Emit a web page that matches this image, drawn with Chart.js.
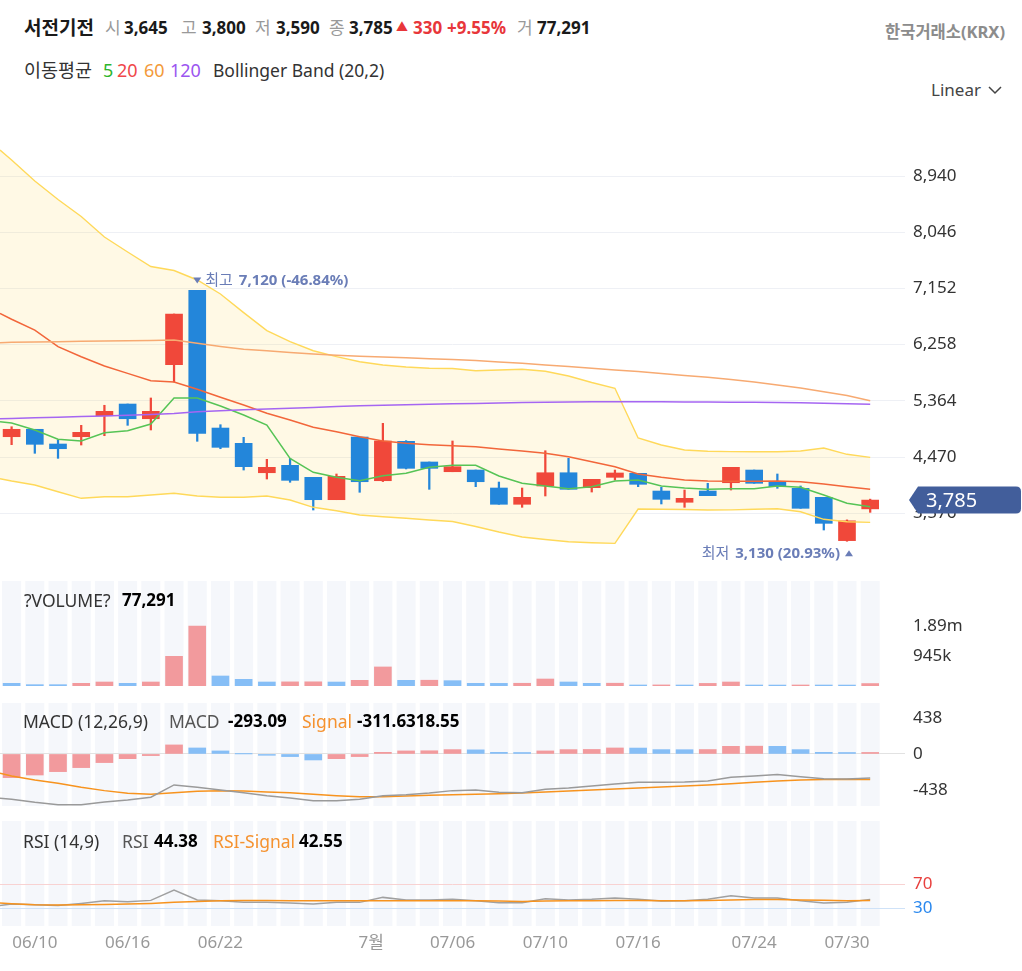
<!DOCTYPE html>
<html><head><meta charset="utf-8">
<script src="https://cdn.jsdelivr.net/npm/chart.js@4.4.1/dist/chart.umd.min.js"></script>
<style>
html,body{margin:0;padding:0;background:#fff;}
body{width:1022px;height:971px;position:relative;overflow:hidden;font-family:"Noto Sans","Noto Sans CJK KR",sans-serif;color:#222;}
.t{position:absolute;white-space:nowrap;line-height:20px;font-size:16px;z-index:5;}
.g{color:#999;font-size:17px;}
.b{font-weight:700;color:#1a1a1a;font-size:17px;}
.r{color:#E8363A;font-weight:700;font-size:17px;}
.l{font-size:17.5px;color:#333;}
.pn{position:absolute;left:0;}
canvas{display:block;}
</style></head><body>

<div class="t b" style="left:24px;top:18px;font-size:19px;">서전기전</div>
<div class="t g" style="left:105px;top:18px;">시</div><div class="t b" style="left:124px;top:18px;">3,645</div>
<div class="t g" style="left:181px;top:18px;">고</div><div class="t b" style="left:202px;top:18px;">3,800</div>
<div class="t g" style="left:255px;top:18px;">저</div><div class="t b" style="left:276px;top:18px;">3,590</div>
<div class="t g" style="left:329px;top:18px;">종</div><div class="t b" style="left:349px;top:18px;">3,785</div>
<div class="t r" style="left:396px;top:18px;font-size:12px;">▲</div>
<div class="t r" style="left:413px;top:18px;">330</div><div class="t r" style="left:447px;top:18px;">+9.55%</div>
<div class="t g" style="left:517px;top:18px;">거</div><div class="t b" style="left:537px;top:18px;">77,291</div>
<div class="t" style="right:17px;top:22px;font-weight:700;color:#8C8C8C;font-size:16.5px;">한국거래소(KRX)</div>

<div class="t" style="left:24px;top:60px;color:#333;font-size:18.5px;">이동평균</div>
<div class="t" style="left:103px;top:60px;color:#2DB52D;font-size:18px;">5</div>
<div class="t" style="left:117px;top:60px;color:#F0474A;font-size:18px;">20</div>
<div class="t" style="left:144px;top:60px;color:#F39A3A;font-size:18px;">60</div>
<div class="t" style="left:170px;top:60px;color:#9B55F0;font-size:18px;">120</div>
<div class="t" style="left:213px;top:60px;color:#333;font-size:17.5px;">Bollinger Band (20,2)</div>

<div class="t" style="left:931px;top:80px;color:#444;font-size:17px;">Linear</div>
<svg style="position:absolute;left:988px;top:85px;z-index:5" width="14" height="10"><polyline points="1,2 7,8 13,2" fill="none" stroke="#444" stroke-width="1.5"/></svg>

<div class="t l" style="left:24px;top:590px;">?VOLUME?</div><div class="t b" style="left:122px;top:590px;color:#000;">77,291</div>
<div class="t l" style="left:23px;top:711px;">MACD (12,26,9)</div>
<div class="t l" style="left:169px;top:711px;color:#555;">MACD</div><div class="t b" style="left:228px;top:711px;color:#000;">-293.09</div>
<div class="t l" style="left:302px;top:711px;color:#F5922F;">Signal</div><div class="t b" style="left:357px;top:711px;color:#000;">-311.6318.55</div>
<div class="t l" style="left:23px;top:831px;">RSI (14,9)</div>
<div class="t l" style="left:122px;top:831px;color:#555;">RSI</div><div class="t b" style="left:154px;top:831px;color:#000;">44.38</div>
<div class="t l" style="left:213px;top:831px;color:#F5922F;">RSI-Signal</div><div class="t b" style="left:299px;top:831px;color:#000;">42.55</div>

<div class="pn" style="top:110px;"><canvas id="price" width="1022" height="462"></canvas></div>
<div class="pn" style="top:581px;"><canvas id="vol" width="1022" height="105"></canvas></div>
<div class="pn" style="top:703px;"><canvas id="macd" width="1022" height="103"></canvas></div>
<div class="pn" style="top:821px;"><canvas id="rsi" width="1022" height="140"></canvas></div>

<script>
// ---------- DATA ----------
const dates = ['06/09','06/10','06/11','06/12','06/15','06/16','06/17','06/18','06/19','06/22','06/23','06/24','06/25','06/26','06/29','06/30','07/01','07/02','07/03','07/06','07/07','07/08','07/09','07/10','07/13','07/14','07/15','07/16','07/17','07/20','07/21','07/22','07/24','07/27','07/28','07/29','07/30','07/31'];
const tickDates = ['06/10','06/16','06/22','07/01','07/06','07/10','07/16','07/24','07/30'];
const tickTexts = ['06/10','06/16','06/22','7월','07/06','07/10','07/16','07/24','07/30'];

const opens  = [4793,4911,4677,4793,5127,5313,5079,5938,7120,4931,4688,4220,4338,4147,3791,4788,4093,4720,4391,4236,4263,3977,3718,4009,4220,3982,4147,4211,3929,3750,3929,4061,4263,4077,3972,3829,3140,3645];
const highs  = [4952,4911,4741,4974,5293,5313,5409,6745,7120,4984,4783,4433,4449,4147,4200,4788,5006,4730,4391,4725,4263,4072,3977,4570,4449,4115,4263,4211,3988,3945,4052,4306,4263,4200,4009,3829,3470,3800];
const lows   = [4666,4529,4449,4661,4809,4974,4900,5663,4720,4602,4263,4120,4068,3627,3791,3909,4080,4280,3956,4236,3998,3718,3670,3850,3956,3913,4104,3998,3723,3670,3855,3945,4052,3972,3654,3309,3130,3590];
const closes = [4911,4672,4602,4863,5197,5079,5197,6745,4847,4624,4316,4306,4099,3791,4163,4077,4725,4290,4290,4316,4077,3718,3829,4220,3956,4115,4216,4036,3797,3813,3855,4306,4052,3998,3654,3415,3455,3785];

const ma5   = [5011,4900,4752,4725,4857,4889,4995,5409,5409,5281,5138,4979,4449,4227,4147,4093,4173,4211,4306,4338,4338,4168,4052,4009,3966,3998,4088,4104,4009,3977,3956,3966,3966,4009,3988,3866,3734,3680];
const ma20  = [6661,6490,6225,6066,5918,5801,5684,5663,5547,5420,5297,5165,5059,4943,4873,4793,4725,4688,4666,4650,4634,4597,4566,4529,4475,4395,4316,4200,4147,4104,4088,4083,4083,4088,4077,4041,3998,3956];
const ma60  = [6295,6300,6305,6310,6315,6320,6325,6331,6279,6228,6183,6160,6132,6109,6088,6074,6061,6048,6035,6021,6004,5983,5961,5934,5910,5881,5854,5830,5799,5767,5738,5703,5663,5615,5568,5509,5449,5366];
const ma120 = [5084,5094,5102,5113,5122,5135,5148,5162,5190,5205,5221,5234,5246,5259,5272,5285,5294,5302,5310,5316,5323,5329,5336,5340,5345,5348,5350,5350,5348,5347,5345,5343,5342,5338,5332,5324,5316,5308];
const bbUpper = [9195,8860,8566,8296,7970,7731,7500,7437,7286,7063,6767,6482,6304,6161,6066,5986,5934,5902,5881,5878,5843,5854,5865,5835,5759,5655,5563,4772,4661,4582,4561,4555,4555,4555,4566,4613,4513,4465];
const bbLower = [4088,4025,3918,3813,3839,3839,3866,3893,3850,3829,3829,3850,3786,3670,3616,3548,3521,3495,3468,3444,3365,3277,3198,3158,3123,3107,3097,3643,3640,3636,3627,3630,3638,3648,3600,3479,3441,3431];
// values of [ma5, ma20, ma60, ma120, bbUpper, bbLower] read at the left edge of the plot
const priceEdges = [5032,6753,6288,5079,9354,4125];
const priceTicks = [3576,4470,5364,6258,7152,8046,8940];

const volumes  = [85000,42000,42000,85000,126000,85000,126000,935000,1890000,315000,210000,126000,130000,132000,125000,178000,600000,178000,182000,168000,85000,83000,86000,220000,126000,85000,88000,32000,34000,31000,82000,126000,31000,30000,32000,31000,30000,77291];
const volumeUp = [0,0,0,1,1,0,1,1,1,0,0,0,1,1,0,1,1,0,1,0,0,0,1,1,0,0,1,0,1,0,1,1,0,0,1,0,0,1];

const macdLine   = [-551,-588,-617,-617,-584,-560,-527,-377,-405,-438,-471,-507,-535,-568,-568,-552,-507,-495,-475,-446,-438,-466,-471,-430,-414,-389,-365,-345,-345,-341,-329,-284,-268,-251,-276,-300,-304,-293.09];
const macdSignal = [-268,-316,-357,-405,-446,-479,-491,-471,-454,-446,-450,-462,-471,-491,-507,-519,-519,-511,-503,-495,-491,-483,-475,-462,-450,-438,-426,-414,-401,-389,-377,-361,-345,-329,-316,-312,-308,-311.63];
const macdHist   = [-288,-256,-215,-166,-105,-57,-20,110,73,37,0.5,-16,-32,-73,-57,-32,20,37,39,53,50,20,18,37,53,55,73,72,53,52,54,93,95,93,53,20,18,18.54];
const histUp     = [1,1,1,1,1,1,1,1,0,0,0,0,0,0,1,1,1,1,1,1,0,0,0,1,1,1,1,0,0,0,1,1,1,0,0,0,0,1];
const macdEdges  = [-539,-235];
const macdTicks  = [-438,0,438];

const rsi       = [36.7,35.5,34,37.7,42,40.5,42.7,60,43.3,42,39.4,39.4,38.5,36.7,39.4,39.4,47.7,43.3,43.3,44.4,42,38.8,38.8,45.5,43.3,44.4,46.7,44.4,41.7,42.2,44.4,50.5,46.7,46.7,42,38.3,39.4,44.38];
const rsiSignal = [37.2,35.5,35,35.5,36,36.7,37.7,39.4,41,42,42.5,42.5,42,42,42,42,42,42,42,42.2,42,41.5,41,41.5,42,42.2,42.5,42.5,42,42,42.5,43.5,44,44,43.5,42.8,42.2,42.55];
const rsiEdges  = [34.3,38.3];
const rsiTicks  = [30,70];

// ---------- RENDERING ----------
const FONT = '"Noto Sans","Noto Sans CJK KR",sans-serif';
Chart.defaults.font.family = FONT;
const N = dates.length;
const RED = '#F0483A', BLUE = '#2386DA';
const VRED = '#F29A9D', VBLUE = '#86BEF6';
const TICKFONT = {size:17};

const pts = (arr, edge) => [{x:-0.5, y:edge}].concat(arr.map((v,i)=>({x:i, y:v})));
const line = (data, color, order, w) => ({type:'line', data, borderColor:color, borderWidth:w||1.5, pointRadius:0, fill:false, tension:0, order});

const xHidden = {type:'linear', min:-0.5, max:38.5, offset:false, display:false};
function yAxis(min, max, ticks, extra){
  return Object.assign({
    position:'right', min, max, offset:false,
    afterBuildTicks(s){ s.ticks = ticks.map(v=>({value:v})); },
    afterFit(s){ s.width = 117; s.paddingTop = 0; s.paddingBottom = 0; },
    border:{display:false},
    grid:{display:false, drawTicks:false},
    ticks:{padding:8, color:'#333', font:TICKFONT}
  }, extra);
}
const baseOpts = {responsive:false, animation:false, events:[], layout:{padding:0},
  plugins:{legend:{display:false}, tooltip:{enabled:false}}};

const stripes = {id:'stripes', beforeDraw(chart){
  const {ctx, chartArea:a, scales:{x}} = chart;
  const w = (x.getPixelForValue(1) - x.getPixelForValue(0)) * 0.82;
  ctx.save(); ctx.fillStyle = '#F5F7FB';
  for (let i = 0; i < N; i++){ const cx = x.getPixelForValue(i); ctx.fillRect(cx - w/2, a.top, w, a.bottom - a.top); }
  ctx.restore();
}};

const candleColors = closes.map((c,i)=> c >= opens[i] ? RED : BLUE);

const markers = {id:'markers', afterDatasetsDraw(chart){
  const {ctx, scales:{x, y}} = chart;
  const last = closes[N-1];
  const hiI = highs.indexOf(Math.max(...highs));
  const loI = lows.indexOf(Math.min(...lows));
  const hi = highs[hiI], lo = lows[loI];
  const hiPct = ((last - hi) / hi * 100).toFixed(2);
  const loPct = ((last - lo) / lo * 100).toFixed(2);
  ctx.save();
  ctx.fillStyle = '#6A7DB7'; ctx.textBaseline = 'middle';
  let hx = x.getPixelForValue(hiI), hy = y.getPixelForValue(hi) - 10;
  ctx.beginPath(); ctx.moveTo(hx-4, hy-3); ctx.lineTo(hx+4, hy-3); ctx.lineTo(hx, hy+3); ctx.closePath(); ctx.fill();
  ctx.font = '15px ' + FONT; ctx.textAlign = 'left';
  ctx.fillText('최고', hx + 8, hy);
  let w = ctx.measureText('최고').width;
  ctx.font = 'bold 15px ' + FONT;
  ctx.fillText(hi.toLocaleString('en-US') + ' (' + hiPct + '%)', hx + 8 + w + 6, hy);
  let lx = x.getPixelForValue(loI) + 2, ly = y.getPixelForValue(lo) + 12;
  ctx.beginPath(); ctx.moveTo(lx-4, ly+3); ctx.lineTo(lx+4, ly+3); ctx.lineTo(lx, ly-3); ctx.closePath(); ctx.fill();
  ctx.textAlign = 'right';
  const t2 = lo.toLocaleString('en-US') + ' (' + loPct + '%)';
  ctx.fillText(t2, lx - 9, ly);
  w = ctx.measureText(t2).width;
  ctx.font = '15px ' + FONT;
  ctx.fillText('최저', lx - 9 - w - 6, ly);
  ctx.restore();
}};

const priceTag = {id:'priceTag', afterDraw(chart){
  const {ctx, scales:{y}} = chart;
  const last = closes[N-1];
  const py = y.getPixelForValue(last);
  const x0 = chart.chartArea.right + 4, x1 = chart.width - 1, h = 27, r = 5;
  ctx.save();
  ctx.fillStyle = '#425E9B';
  ctx.beginPath();
  ctx.moveTo(x0, py);
  ctx.lineTo(x0 + 9, py - h/2);
  ctx.lineTo(x1 - r, py - h/2);
  ctx.quadraticCurveTo(x1, py - h/2, x1, py - h/2 + r);
  ctx.lineTo(x1, py + h/2 - r);
  ctx.quadraticCurveTo(x1, py + h/2, x1 - r, py + h/2);
  ctx.lineTo(x0 + 9, py + h/2);
  ctx.closePath(); ctx.fill();
  ctx.fillStyle = '#fff'; ctx.font = '20px ' + FONT; ctx.textBaseline = 'middle'; ctx.textAlign = 'left';
  ctx.fillText(last.toLocaleString('en-US'), x0 + 17, py + 1);
  ctx.restore();
}};

// price panel
new Chart(document.getElementById('price'), {
  type:'bar',
  data:{datasets:[
    Object.assign(line(pts(bbUpper, priceEdges[4]), '#FFD95A', 1, 1.4), {fill:'+1', backgroundColor:'rgba(255,214,80,0.15)'}),
    line(pts(bbLower, priceEdges[5]), '#FFD95A', 1, 1.4),
    {type:'bar', data: lows.map((l,i)=>({x:i, y:[l, highs[i]]})), backgroundColor:candleColors, barThickness:1.6, grouped:false, order:3},
    {type:'bar', data: opens.map((o,i)=>({x:i, y:[o, closes[i]]})), backgroundColor:candleColors, barThickness:17, grouped:false, order:2},
    line(pts(ma120, priceEdges[3]), '#A566F2', 0),
    line(pts(ma60, priceEdges[2]), '#F7AA72', 0),
    line(pts(ma20, priceEdges[1]), '#F2663A', 0),
    line(pts(ma5, priceEdges[0]), '#56C456', 0)
  ]},
  options:Object.assign({}, baseOpts, {
    plugins:{legend:{display:false}, tooltip:{enabled:false}, filler:{drawTime:'beforeDatasetsDraw'}},
    scales:{
      x: xHidden,
      y: yAxis(2641, 9990, priceTicks, {
        grid:{display:true, drawTicks:false, color:'#EEF0F5'},
        ticks:{padding:8, color:'#333', font:TICKFONT, callback:v=>Number(v).toLocaleString('en-US')}
      })
    }
  }),
  plugins:[markers, priceTag]
});

// volume panel
const volMax = Math.max(...volumes);
const fmtVol = v => v >= 1e6 ? (v/1e6).toFixed(2) + 'm' : Math.round(v/1e3) + 'k';
new Chart(document.getElementById('vol'), {
  type:'bar',
  data:{datasets:[{data: volumes.map((v,i)=>({x:i, y:v})), backgroundColor: volumeUp.map(u=>u?VRED:VBLUE), barThickness:17, grouped:false}]},
  options:Object.assign({}, baseOpts, {scales:{
    x: xHidden,
    y: yAxis(0, volMax*1.75, [volMax/2, volMax], {ticks:{padding:8, color:'#333', font:TICKFONT, callback:v=>fmtVol(v)}})
  }}),
  plugins:[stripes]
});

// MACD panel
new Chart(document.getElementById('macd'), {
  type:'bar',
  data:{datasets:[
    {data: macdHist.map((v,i)=>({x:i, y:v})), backgroundColor: histUp.map(u=>u?VRED:VBLUE), barThickness:17, grouped:false, order:2},
    line(pts(macdLine, macdEdges[0]), '#9A9A9A', 0),
    line(pts(macdSignal, macdEdges[1]), '#F7931E', 0)
  ]},
  options:Object.assign({}, baseOpts, {scales:{
    x: xHidden,
    y: yAxis(-633, 620, macdTicks, {
      grid:{display:true, drawTicks:false, color:c=> c.tick && c.tick.value === 0 ? '#E2E2E2' : 'rgba(0,0,0,0)'},
      ticks:{padding:8, color:'#333', font:TICKFONT, callback:v=>String(v)}
    })
  }}),
  plugins:[stripes]
});

// RSI panel
const tickPos = k => { const j = dates.indexOf(tickDates[k]); return tickTexts[k].endsWith('월') ? j - 0.5 : j; };
new Chart(document.getElementById('rsi'), {
  type:'line',
  data:{datasets:[
    line(pts(rsi, rsiEdges[0]), '#A0A0A0', 1),
    line(pts(rsiSignal, rsiEdges[1]), '#F7931E', 0)
  ]},
  options:Object.assign({}, baseOpts, {scales:{
    x:{type:'linear', min:-0.5, max:38.5, offset:false, position:'bottom',
       afterBuildTicks(s){ s.ticks = tickDates.map((d,k)=>({value:tickPos(k)})); },
       afterFit(s){ s.height = 35; s.paddingLeft = 0; s.paddingRight = 0; },
       grid:{display:false, drawTicks:false}, border:{display:false},
       ticks:{autoSkip:false, maxRotation:0, minRotation:0, padding:7, color:'#999', font:TICKFONT, callback:(v,i)=>tickTexts[i]}},
    y: yAxis(0, 175, rsiTicks, {
      grid:{display:true, drawTicks:false, color:c=> !c.tick ? 'rgba(0,0,0,0)' : (c.tick.value === 70 ? '#F8D2D2' : '#CFE2F8')},
      ticks:{padding:8, font:TICKFONT, color:c=> c.tick && c.tick.value === 70 ? '#E8403E' : '#2A88EE', callback:v=>String(v)}
    })
  }}),
  plugins:[stripes]
});
</script>
</body></html>
